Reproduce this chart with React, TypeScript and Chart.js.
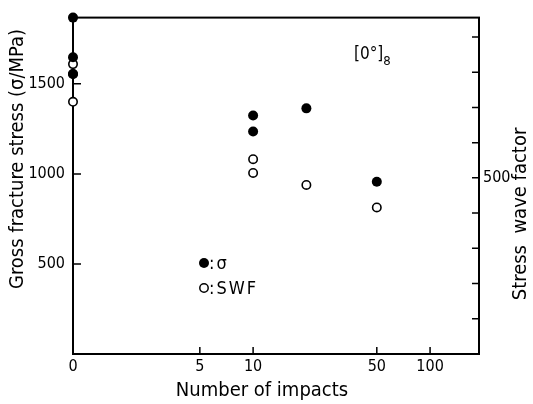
import React, { useEffect, useRef } from "react";
import { Chart, registerables } from "chart.js";

Chart.register(...registerables);

// ---- data ----
const sigmaImpacts = [0, 0, 0, 10, 10, 20, 50];
const sigmaValues = [1868, 1648, 1555, 1324, 1236, 1364, 956];
const swfImpacts = [0, 0, 0, 10, 10, 20, 50];
const swfValues = [823, 795, 716, 553, 514, 480, 416];
const xTickValues = [0, 5, 10, 50, 100];
const leftTickValues = [500, 1000, 1500];
const rightTickValues = [100, 200, 300, 400, 500, 600, 700, 800, 900];
const rightLabelledTicks = [500];
const ZERO_POS = 0.96; // position of "0 impacts" on the logarithmic axis

const FONT = '"DejaVu Sans Condensed", "DejaVu Sans", sans-serif';

const toPos = (v: number) => (v === 0 ? ZERO_POS : v);

const decorPlugin = {
  id: "decor",
  beforeDatasetsDraw(chart: any) {
    const { ctx, chartArea } = chart;
    const { left, right, top, bottom } = chartArea;
    const x = chart.scales.x;
    const y = chart.scales.y;
    const y1 = chart.scales.y1;
    ctx.save();
    ctx.strokeStyle = "#000";
    ctx.lineWidth = 2;
    ctx.strokeRect(left, top, right - left, bottom - top);
    ctx.lineWidth = 1.5;
    ctx.beginPath();
    xTickValues.forEach((v) => {
      if (v === 0) return;
      const px = x.getPixelForValue(toPos(v));
      ctx.moveTo(px, bottom);
      ctx.lineTo(px, bottom - 7);
    });
    leftTickValues.forEach((v) => {
      const py = y.getPixelForValue(v);
      ctx.moveTo(left, py);
      ctx.lineTo(left + 8, py);
    });
    rightTickValues.forEach((v) => {
      const py = y1.getPixelForValue(v);
      ctx.moveTo(right, py);
      ctx.lineTo(right - 7, py);
    });
    ctx.stroke();
    ctx.restore();
  },
  afterDraw(chart: any) {
    const { ctx } = chart;
    ctx.save();
    ctx.fillStyle = "#000";
    ctx.strokeStyle = "#000";
    // axis titles
    ctx.font = `20px ${FONT}`;
    ctx.textAlign = "center";
    ctx.textBaseline = "middle";
    ctx.fillText("Number of impacts", 262, 391);
    ctx.save();
    ctx.translate(18, 159);
    ctx.rotate(-Math.PI / 2);
    ctx.fillText("Gross fracture stress (σ/MPa)", 0, 0);
    ctx.restore();
    ctx.save();
    ctx.translate(521, 214);
    ctx.rotate(-Math.PI / 2);
    ctx.fillText("Stress  wave factor", 0, 0);
    ctx.restore();

    // legend
    ctx.beginPath();
    ctx.arc(204, 263, 5, 0, Math.PI * 2);
    ctx.fill();
    ctx.lineWidth = 1.5;
    ctx.beginPath();
    ctx.arc(204, 288, 4.2, 0, Math.PI * 2);
    ctx.stroke();
    ctx.textAlign = "left";
    ctx.font = `18px ${FONT}`;
    (ctx as any).letterSpacing = "2px";
    ctx.fillText(":σ", 209, 264);
    ctx.fillText(":SWF", 209, 289);
    (ctx as any).letterSpacing = "0px";

    // laminate annotation
    ctx.font = `17px ${FONT}`;
    ctx.fillText("[0°]", 354, 55);
    const w = ctx.measureText("[0°]").width;
    ctx.font = `13px ${FONT}`;
    ctx.fillText("8", 354 + w, 62);
    ctx.restore();
  },
};

export default function App() {
  const ref = useRef<HTMLCanvasElement>(null);
  useEffect(() => {
    document.body.style.margin = "0";
    const canvas = ref.current!;
    const chart = new Chart(canvas, {
      type: "scatter",
      data: {
        datasets: [
          {
            label: "σ",
            data: sigmaImpacts.map((v, i) => ({ x: toPos(v), y: sigmaValues[i] })),
            yAxisID: "y",
            pointRadius: 5,
            pointBackgroundColor: "#000",
            pointBorderColor: "#000",
            pointBorderWidth: 0,
            clip: false as any,
          },
          {
            label: "SWF",
            data: swfImpacts.map((v, i) => ({ x: toPos(v), y: swfValues[i] })),
            yAxisID: "y1",
            pointRadius: 4.2,
            pointBackgroundColor: "#fff",
            pointBorderColor: "#000",
            pointBorderWidth: 1.6,
            clip: false as any,
          },
        ],
      },
      options: {
        responsive: false,
        animation: false,
        devicePixelRatio: 1,
        layout: { padding: { top: 14, left: 0, right: 0, bottom: 0 } },
        plugins: { legend: { display: false }, tooltip: { enabled: false } },
        scales: {
          x: {
            type: "logarithmic",
            min: ZERO_POS,
            max: 189,
            grid: { display: false, drawTicks: false },
            border: { display: false },
            afterBuildTicks: (s: any) => {
              s.ticks = xTickValues.map((v) => ({ value: toPos(v) }));
            },
            afterFit: (s: any) => {
              s.height = 50;
            },
            ticks: {
              autoSkip: false,
              maxRotation: 0,
              padding: 3,
              color: "#000",
              font: { family: FONT, size: 16 },
              callback: (v: any) => (v === ZERO_POS ? "0" : String(v)),
            },
          },
          y: {
            type: "linear",
            position: "left",
            min: 0,
            max: 1868,
            grid: { display: false, drawTicks: false },
            border: { display: false },
            afterBuildTicks: (s: any) => {
              s.ticks = leftTickValues.map((v) => ({ value: v }));
            },
            afterFit: (s: any) => {
              s.width = 73;
            },
            ticks: {
              padding: 8,
              color: "#000",
              font: { family: FONT, size: 16 },
              callback: (v: any) => String(v),
            },
          },
          y1: {
            type: "linear",
            position: "right",
            min: 0,
            max: 955,
            grid: { display: false, drawTicks: false },
            border: { display: false },
            afterBuildTicks: (s: any) => {
              s.ticks = rightLabelledTicks.map((v) => ({ value: v }));
            },
            afterFit: (s: any) => {
              s.width = 54;
            },
            ticks: {
              padding: 4,
              color: "#000",
              font: { family: FONT, size: 16 },
              callback: (v: any) => String(v),
            },
          },
        },
      },
      plugins: [decorPlugin],
    });
    return () => chart.destroy();
  }, []);
  return (
    <canvas
      ref={ref}
      width={533}
      height={404}
      style={{ display: "block", width: 533, height: 404 }}
    />
  );
}
